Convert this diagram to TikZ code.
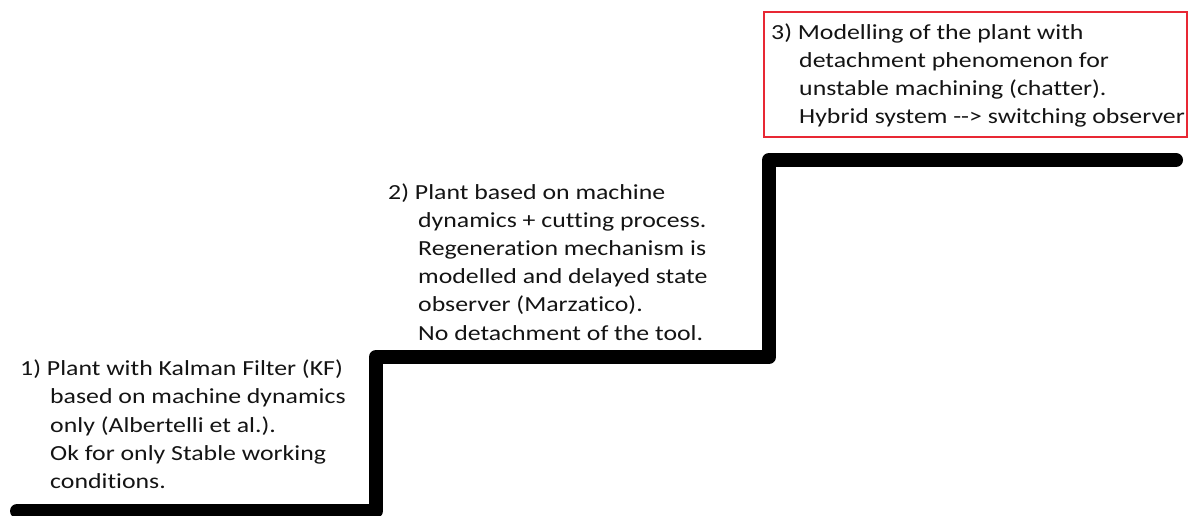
\documentclass[tikz,border=0pt]{standalone}
\usepackage{fontspec}
\newfontfamily\labelfont{Carlito}[FakeStretch=1.2,Ligatures={CommonOff}]
\definecolor{framered}{RGB}{232,40,52}
\begin{document}
\begin{tikzpicture}[x=1pt,y=-1pt,
  stairline/.style={line width=14pt,line cap=round,line join=round,black},
  steptext/.style={anchor=base west,inner sep=0pt,align=left,
    font=\labelfont\fontsize{21.5}{28.2}\selectfont,text=black!92},
  noteframe/.style={draw=framered,line width=1.5pt,rectangle,inner sep=0pt}]
\useasboundingbox (0,0) rectangle (1192,516);
% staircase corners
\coordinate (s0) at (17,511);
\coordinate (s1) at (376,511);
\coordinate (s2) at (376,357);
\coordinate (s3) at (769,357);
\coordinate (s4) at (769,160);
\coordinate (s5) at (1176,160);
\draw[stairline] (s0) -- (s1) -- (s2) -- (s3) -- (s4) -- (s5);
% step descriptions (anchored at the baseline of their last line)
\node[steptext] (t1) at (20,488.5) {1) Plant with Kalman Filter (KF)\\
  \hspace*{30pt}based on machine dynamics\\
  \hspace*{30pt}only (Albertelli et al.).\\
  \hspace*{30pt}Ok for only Stable working\\
  \hspace*{30pt}conditions.};
\node[steptext] (t2) at (388,340) {2) Plant based on machine\\
  \hspace*{30pt}dynamics + cutting process.\\
  \hspace*{30pt}Regeneration mechanism is\\
  \hspace*{30pt}modelled and delayed state\\
  \hspace*{30pt}observer (Marzatico).\\
  \hspace*{30pt}No detachment of the tool.};
\node[steptext] (t3) at (771,124) {3) Modelling of the plant with\\
  \hspace*{28pt}detachment phenomenon for\\
  \hspace*{28pt}unstable machining (chatter).\\
  \hspace*{28pt}Hybrid system -{}-{}> switching observer};
\node[noteframe,minimum width=423pt,minimum height=125pt] (f3) at (975.5,74.5) {};
\end{tikzpicture}
\end{document}
